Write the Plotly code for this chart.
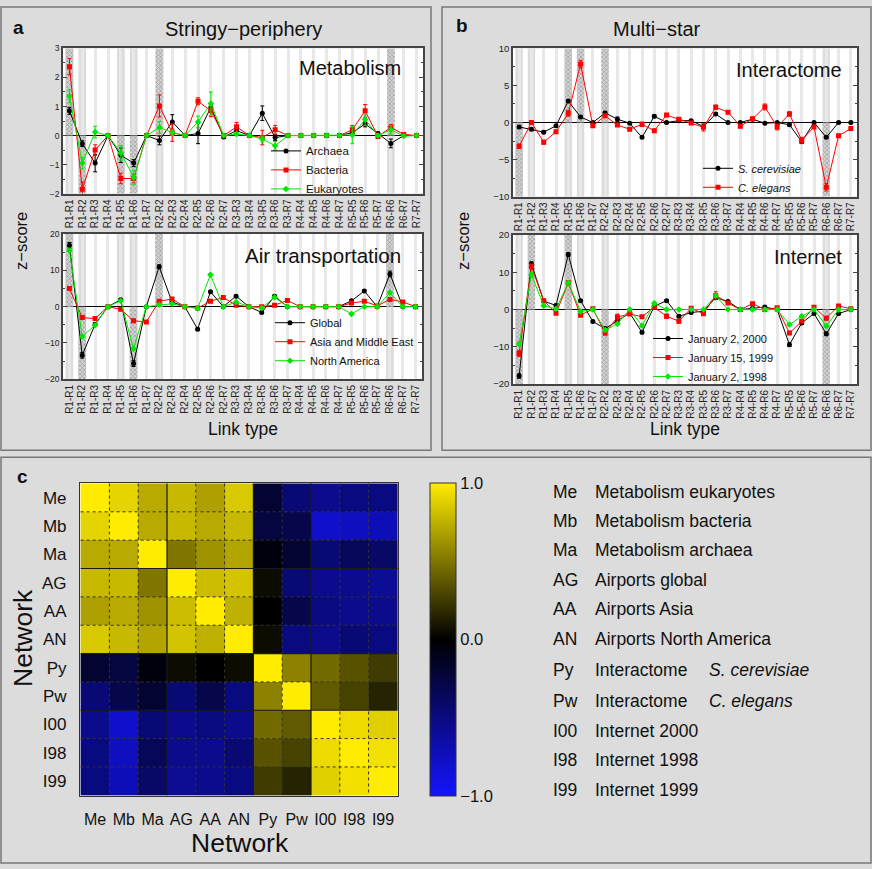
import plotly.graph_objects as go

W, H = 872, 869
FONT = "Liberation Sans"

link_types = ["R1-R1", "R1-R2", "R1-R3", "R1-R4", "R1-R5", "R1-R6", "R1-R7",
              "R2-R2", "R2-R3", "R2-R4", "R2-R5", "R2-R6", "R2-R7",
              "R3-R3", "R3-R4", "R3-R5", "R3-R6", "R3-R7",
              "R4-R4", "R4-R5", "R4-R6", "R4-R7",
              "R5-R5", "R5-R6", "R5-R7", "R6-R6", "R6-R7", "R7-R7"]

shade_cols = ["R1-R1", "R1-R2", "R1-R5", "R1-R6", "R2-R2", "R6-R6"]
# +1 hatched above zero, -1 hatched below zero, 0 plain gray
hatch_metab = [1, -1, -1, -1, 1, 1]
hatch_air = [1, -1, 0, -1, 1, 1]
hatch_inter = [-1, 0, 1, 1, 1, -1]
hatch_net = [-1, 1, 1, 0, -1, -1]

# ---- Metabolism ----
metab_archaea = [0.85, -0.28, -0.95, 0, -0.68, -0.95, 0, -0.17, 0.47, 0, 0.07, 0.97, -0.05,
                 0.17, 0, 0.77, -0.07, 0, 0, 0, 0, 0, 0.1, 0.4, 0.07, -0.27, 0, 0]
metab_archaea_err = [0.12, 0.1, 0.3, 0, 0.25, 0.12, 0, 0.15, 0.25, 0, 0.35, 0.1, 0.05,
                     0.1, 0, 0.25, 0.1, 0, 0, 0, 0, 0, 0.1, 0.1, 0.05, 0.15, 0, 0]
metab_bacteria = [2.37, -1.85, -0.5, 0, -1.48, -1.48, 0, 1.02, 0.1, 0, 1.18, 0.85, 0,
                  0.3, 0, -0.07, 0.2, 0, 0, 0, 0, 0, 0.2, 0.85, -0.03, 0.28, 0.04, 0]
metab_bacteria_err = [0.28, 0.25, 0.18, 0, 0.18, 0.15, 0, 0.38, 0.3, 0, 0.12, 0.2, 0,
                      0.15, 0, 0.25, 0.15, 0, 0, 0, 0, 0, 0.15, 0.22, 0.03, 0.1, 0.03, 0]
metab_eukaryotes = [1.35, -0.95, 0.12, 0, -0.6, -1.45, 0, 0.28, 0.1, 0, 0.47, 1.1, 0,
                    0.05, 0, -0.12, -0.35, 0, 0, 0, 0, 0, 0.02, 0.55, 0, 0.2, -0.02, 0]
metab_eukaryotes_err = [0.22, 0.2, 0.2, 0, 0.25, 0.25, 0, 0.2, 0.1, 0, 0.2, 0.4, 0,
                        0.05, 0, 0.1, 0.15, 0, 0, 0, 0, 0, 0.3, 0.2, 0, 0.15, 0.03, 0]

# ---- Air transportation ----
air_global = [16.9, -13.4, -4.9, 0, 1.9, -15.7, 0, 11.0, 1.3, 0, -6.2, 4.1, 0,
              2.9, 0, -1.6, 2.9, 0, 0, 0, 0, 0, 1.6, 4.3, 0, 9.0, 0, 0]
air_global_err = [0.8, 0.8, 0.5, 0, 0.3, 0.8, 0, 0.5, 0.3, 0, 0.3, 0.3, 0,
                  0.3, 0, 0.3, 0.3, 0, 0, 0, 0, 0, 0.3, 0.3, 0, 0.8, 0, 0]
air_asia = [5.0, -3.0, -3.3, 0, -0.7, -3.9, -4.2, 1.5, 2.1, 0, -0.4, 1.5, 2.5,
            0.4, 0, 0.0, 0.4, 1.7, 0, 0, 0, 0, 1.0, 1.5, 0.2, 2.0, 1.3, 0]
air_asia_err = [0.3, 0.3, 0.3, 0, 0.2, 0.3, 0.3, 0.2, 0.2, 0, 0.2, 0.2, 0.2,
                0.2, 0, 0.2, 0.2, 0.2, 0, 0, 0, 0, 0.2, 0.2, 0.2, 0.2, 0.2, 0]
air_namerica = [15.5, -8.2, -5.1, 0, 1.6, -11.6, 0, 0.5, 0.8, 0, -0.5, 8.8, 0,
                1.3, 0, -0.4, 2.6, 0, 0, 0, 0, 0, -2.0, 0, 0, 3.8, 0, 0]
air_namerica_err = [0.4, 0.4, 0.3, 0, 0.2, 0.4, 0, 0.2, 0.2, 0, 0.2, 0.3, 0,
                    0.2, 0, 0.2, 0.2, 0, 0, 0, 0, 0, 0.2, 0, 0, 0.3, 0, 0]

# ---- Interactome ----
int_scer = [-0.6, -0.9, -1.3, -0.45, 2.9, 0.75, 0, 1.3, 0.45, -0.1, -2.0, 0.85, 0,
            0.25, 0.25, -0.55, 1.15, 0, 0, 0.45, -0.1, 0, -0.3, -2.6, 0, -2.0, 0, 0]
int_scer_err = [0.15, 0.2, 0.2, 0.15, 0.2, 0.15, 0.1, 0.2, 0.3, 0.1, 0.15, 0.2, 0.1,
                0.15, 0.15, 0.15, 0.2, 0.1, 0.1, 0.15, 0.1, 0.1, 0.15, 0.2, 0.1, 0.15, 0.1, 0.1]
int_cele = [-3.2, 0, -2.65, -1.25, 1.25, 7.9, -0.45, 0.9, -0.35, -0.9, -0.25, -1.1, 1.0,
            0.45, -0.05, -0.65, 2.05, 1.4, -0.5, 0.5, 2.1, -0.6, 1.15, -2.4, -0.6, -8.75, -1.8, -0.8]
int_cele_err = [0.3, 0.2, 0.25, 0.2, 0.4, 0.5, 0.2, 0.2, 0.2, 0.2, 0.3, 0.2, 0.2,
                0.2, 0.2, 0.5, 0.3, 0.2, 0.2, 0.2, 0.4, 0.4, 0.3, 0.4, 0.2, 0.5, 0.2, 0.2]

# ---- Internet ----
net_2000 = [-17.8, 12.3, 2.3, 1.1, 14.8, 2.4, -3.2, -5.1, -3.0, -0.9, -6.1, 0.9, 2.4,
            -1.8, -0.8, -0.4, 3.2, 2.2, 0, 0.35, 0.7, 0, -9.4, -3.6, -1.05, -6.5, -1.05, 0]
net_2000_err = [0.6, 0.5, 0.4, 0.4, 0.5, 0.3, 0.3, 0.4, 0.4, 0.3, 0.4, 0.3, 0.3,
                0.4, 0.3, 0.3, 0.5, 0.3, 0.2, 0.2, 0.2, 0.2, 0.5, 0.4, 0.3, 0.5, 0.3, 0.2]
net_1999 = [-11.8, 11.6, 2.4, -1.0, 7.2, -1.5, 0.2, -6.3, -2.0, -1.2, -1.9, 0.6, -1.8,
            -3.1, 0.35, -1.1, 3.8, 1.75, 0, 1.6, 0, 0.5, -6.3, -3.1, 0.6, -2.3, 1.0, 0.2]
net_1999_err = [0.8, 0.6, 0.4, 0.3, 0.5, 0.3, 0.3, 0.5, 0.8, 0.3, 0.3, 0.3, 0.6,
                0.5, 0.3, 0.3, 1.0, 0.4, 0.2, 0.3, 0.2, 0.3, 0.4, 0.4, 0.3, 0.5, 0.3, 0.2]
net_1998 = [-9.2, 9.4, 1.05, 0.2, 7.2, -0.5, 0, -5.5, -3.8, 0, -4.3, 1.7, 0,
            0, 0, 0, 3.7, 0, 0, 0, 0, 0, -4.0, -1.8, 0, -4.4, 0, 0]
net_1998_err = [0.5, 0.5, 0.3, 0.2, 0.4, 0.3, 0.2, 0.4, 0.3, 0.2, 0.3, 0.3, 0.2,
                0.2, 0.2, 0.2, 0.4, 0.2, 0.2, 0.2, 0.2, 0.2, 0.3, 0.3, 0.2, 0.4, 0.2, 0.2]

# ---- Correlation matrix ----
net_codes = ["Me", "Mb", "Ma", "AG", "AA", "AN", "Py", "Pw", "I00", "I98", "I99"]
corr = [
    [1.00, 0.90, 0.72, 0.78, 0.68, 0.85, -0.20, -0.45, -0.55, -0.50, -0.50],
    [0.90, 1.00, 0.72, 0.78, 0.72, 0.78, -0.25, -0.30, -0.80, -0.75, -0.72],
    [0.72, 0.72, 1.00, 0.50, 0.62, 0.70, -0.05, -0.20, -0.45, -0.35, -0.40],
    [0.78, 0.78, 0.50, 1.00, 0.80, 0.83, 0.05, -0.45, -0.55, -0.55, -0.58],
    [0.68, 0.72, 0.62, 0.80, 1.00, 0.75, 0.00, -0.30, -0.50, -0.55, -0.55],
    [0.85, 0.78, 0.70, 0.83, 0.75, 1.00, 0.05, -0.50, -0.55, -0.45, -0.50],
    [-0.20, -0.25, -0.05, 0.05, 0.00, 0.05, 1.00, 0.55, 0.45, 0.35, 0.25],
    [-0.45, -0.30, -0.20, -0.45, -0.30, -0.50, 0.55, 1.00, 0.38, 0.28, 0.15],
    [-0.55, -0.80, -0.45, -0.55, -0.50, -0.55, 0.45, 0.38, 1.00, 0.93, 0.88],
    [-0.50, -0.75, -0.35, -0.55, -0.55, -0.45, 0.35, 0.28, 0.93, 1.00, 0.95],
    [-0.50, -0.72, -0.40, -0.58, -0.55, -0.50, 0.25, 0.15, 0.88, 0.95, 1.00],
]
net_names = ["Metabolism eukaryotes", "Metabolism bacteria", "Metabolism archaea",
             "Airports global", "Airports Asia", "Airports North America",
             "Interactome", "Interactome", "Internet 2000", "Internet 1998", "Internet 1999"]
net_species = ["", "", "", "", "", "", "S. cerevisiae", "C. elegans", "", "", ""]


def px(x):
    return x / W


def py(y):
    return 1 - y / H


fig = go.Figure()

panels = [
    # axis suffix, x px range, y px range, y range, ticks, minor dtick, hatch, tick font
    ("", (63, 423), (43, 190), (-2, 3), [-2, -1, 0, 1, 2, 3], 0.5, hatch_metab, 8.5),
    ("2", (63, 422), (231, 378), (-20, 20), [-20, -10, 0, 10, 20], 5, hatch_air, 8.5),
    ("3", (513, 857), (43, 193), (-10, 10), [-10, -5, 0, 5, 10], 2.5, hatch_inter, 9.5),
    ("4", (513, 857), (232, 383), (-20, 20), [-20, -10, 0, 10, 20], 5, hatch_net, 9.5),
]

shapes = []
layout_axes = {}
for suf, (x0, x1), (y0, y1), yr, yt, mdt, hatch, tfs in panels:
    xa = "x" + suf
    ya = "y" + suf
    layout_axes["xaxis" + suf] = dict(
        domain=[px(x0), px(x1)], anchor=ya, type="category",
        categoryorder="array", categoryarray=link_types, range=[-0.5, 27.5],
        tickangle=-90, tickfont=dict(size=10, color="#222"), showgrid=True,
        gridcolor="#e8e8e8", gridwidth=3, ticks="", showline=True,
        linecolor="#444", linewidth=1.5, mirror=True, zeroline=False)
    layout_axes["yaxis" + suf] = dict(
        domain=[py(y1), py(y0)], anchor=xa, range=list(yr), tickvals=yt,
        tickfont=dict(size=tfs, color="#222"), ticks="inside", ticklen=4,
        tickcolor="#444", minor=dict(ticks="inside", ticklen=2, dtick=mdt, tickcolor="#444"),
        showgrid=False, zeroline=True, zerolinecolor="#000", zerolinewidth=1.2,
        showline=True, linecolor="#444", linewidth=1.5, mirror="ticks")
    # gray columns
    for c in shade_cols:
        i = link_types.index(c)
        shapes.append(dict(type="rect", xref=xa, yref=ya + " domain", x0=i - 0.3, x1=i + 0.3,
                           y0=0, y1=1, fillcolor="#dcdcdc", line=dict(width=0), layer="below"))
    # hatched halves
    hx = [c for c, h in zip(shade_cols, hatch) if h != 0]
    hy = [yr[1] if h > 0 else yr[0] for h in hatch if h != 0]
    fig.add_trace(go.Bar(x=hx, y=hy, base=0, width=0.6, xaxis=xa, yaxis=ya,
                         marker=dict(color="#d4d4d4", line=dict(width=0),
                                     pattern=dict(shape="x", size=3, solidity=0.45, fgcolor="#6a6a6a")),
                         showlegend=False, hoverinfo="skip"))


def series(name, y, err, color, symbol, axis_suf, legend):
    fig.add_trace(go.Scatter(
        x=link_types, y=y, name=name, mode="lines+markers",
        xaxis="x" + axis_suf, yaxis="y" + axis_suf, legend=legend,
        line=dict(color=color, width=1),
        marker=dict(color=color, symbol=symbol, size=5),
        error_y=dict(type="data", array=err, color=color, thickness=1, width=2)))


GREEN = "#00e600"
RED = "#ff0000"
BLACK = "#000000"

series("Archaea", metab_archaea, metab_archaea_err, BLACK, "circle", "", "legend")
series("Bacteria", metab_bacteria, metab_bacteria_err, RED, "square", "", "legend")
series("Eukaryotes", metab_eukaryotes, metab_eukaryotes_err, GREEN, "diamond", "", "legend")

series("Global", air_global, air_global_err, BLACK, "circle", "2", "legend2")
series("Asia and Middle East", air_asia, air_asia_err, RED, "square", "2", "legend2")
series("North America", air_namerica, air_namerica_err, GREEN, "diamond", "2", "legend2")

series("<i>S. cerevisiae</i>", int_scer, int_scer_err, BLACK, "circle", "3", "legend3")
series("<i>C. elegans</i>", int_cele, int_cele_err, RED, "square", "3", "legend3")

series("January 2, 2000", net_2000, net_2000_err, BLACK, "circle", "4", "legend4")
series("January 15, 1999", net_1999, net_1999_err, RED, "square", "4", "legend4")
series("January 2, 1998", net_1998, net_1998_err, GREEN, "diamond", "4", "legend4")

# heatmap
colorscale = [[0.0, "rgb(20,20,255)"], [0.5, "rgb(0,0,0)"], [1.0, "rgb(255,236,0)"]]
fig.add_trace(go.Heatmap(
    z=corr, x=net_codes, y=net_codes, xaxis="x5", yaxis="y5", zmin=-1, zmax=1,
    colorscale=colorscale, hoverinfo="skip",
    colorbar=dict(x=px(430), xanchor="left", y=py(641.5), yanchor="middle",
                  len=317 / H, lenmode="fraction", thickness=26, thicknessmode="pixels",
                  outlinewidth=1, outlinecolor="#333", xpad=0, ypad=0,
                  tickvals=[-1, 0, 1], ticktext=["\u22121.0", "0.0", "1.0"], ticks="",
                  tickfont=dict(family=FONT, size=16.5, color="#111"))))

layout_axes["xaxis5"] = dict(domain=[px(80), px(398)], anchor="y5", type="category",
                             tickfont=dict(size=16, color="#111"), ticks="outside", ticklen=9,
                             tickcolor="rgba(0,0,0,0)", showline=True, linecolor="#333",
                             linewidth=1.2, mirror=True, showgrid=False, zeroline=False)
layout_axes["yaxis5"] = dict(domain=[py(800), py(483)], anchor="x5", type="category",
                             autorange="reversed", tickfont=dict(size=17, color="#111"),
                             ticks="outside", ticklen=9, tickcolor="rgba(0,0,0,0)",
                             showline=True, linecolor="#333", linewidth=1.2, mirror=True,
                             showgrid=False, zeroline=False)

n = len(net_codes)
for b in range(1, n):
    solid = b in (3, 6, 8)
    ln = dict(color="#1a1a1a", width=1.2) if solid else dict(color="#333", width=1, dash="dot")
    shapes.append(dict(type="line", xref="x5", yref="y5", x0=b - 0.5, x1=b - 0.5,
                       y0=-0.5, y1=n - 0.5, line=ln))
    shapes.append(dict(type="line", xref="x5", yref="y5", x0=-0.5, x1=n - 0.5,
                       y0=b - 0.5, y1=b - 0.5, line=ln))

# panel frames
for (x0, y0, x1, y1) in [(1, 1, 431, 450), (442, 1, 871, 450), (1, 457, 871, 868)]:
    shapes.append(dict(type="rect", xref="paper", yref="paper", x0=px(x0), x1=px(x1),
                       y0=py(y1), y1=py(y0), line=dict(color="#777", width=1.5),
                       fillcolor="rgba(0,0,0,0)"))

ann = []


def text(x, y, s, size, xanchor="center", bold=False, italic=False, angle=0, color="#111"):
    if bold:
        s = "<b>" + s + "</b>"
    if italic:
        s = "<i>" + s + "</i>"
    ann.append(dict(x=px(x), y=py(y), xref="paper", yref="paper", text=s, showarrow=False,
                    xanchor=xanchor, yanchor="middle", textangle=angle,
                    font=dict(family=FONT, size=size, color=color)))


text(18, 22, "a", 19, bold=True)
text(462, 20, "b", 19, bold=True)
text(22, 477, "c", 19, bold=True)
text(243, 23, "Stringy\u2212periphery", 20)
text(657, 23, "Multi\u2212star", 20)
text(21, 238, "z\u2212score", 16.5, angle=-90)
text(463, 238, "z\u2212score", 16.5, angle=-90)
text(243, 428, "Link type", 17.5)
text(685, 428, "Link type", 17.5)
text(403, 63, "Metabolism", 20, xanchor="right")
text(403, 253, "Air transportation", 20.5, xanchor="right")
text(844, 65, "Interactome", 20, xanchor="right")
text(844, 254, "Internet", 20, xanchor="right")
text(240, 848, "Network", 26.5)
text(23, 640, "Network", 26.5, angle=-90)

row_y = [492, 522, 551, 581, 611, 641, 673, 704, 734, 764, 794]
for code, name, sp, yy in zip(net_codes, net_names, net_species, row_y):
    text(551, yy, code, 17.5, xanchor="left")
    text(593, yy, name, 17.5, xanchor="left")
    if sp:
        text(707, yy, sp, 17.5, xanchor="left", italic=True)


def leg(x, y, size):
    return dict(x=px(x), y=py(y), xanchor="left", yanchor="middle", bgcolor="rgba(0,0,0,0)",
                borderwidth=0, font=dict(family=FONT, size=size, color="#111"),
                tracegroupgap=0, itemwidth=30)


fig.update_layout(
    width=W, height=H, margin=dict(l=0, r=0, t=0, b=0),
    paper_bgcolor="#dcdcdc", plot_bgcolor="white",
    font=dict(family=FONT, color="#111"),
    shapes=shapes, annotations=ann, barmode="overlay",
    legend=leg(266, 166, 11.5), legend2=leg(270, 340, 11),
    legend3=leg(698, 174, 11), legend4=leg(648, 356, 11),
    **layout_axes)

fig.write_html("out.html", config={"displayModeBar": False},
               post_script="document.body.style.margin='0';document.body.style.padding='0';"
                           "document.body.style.overflow='hidden';")
